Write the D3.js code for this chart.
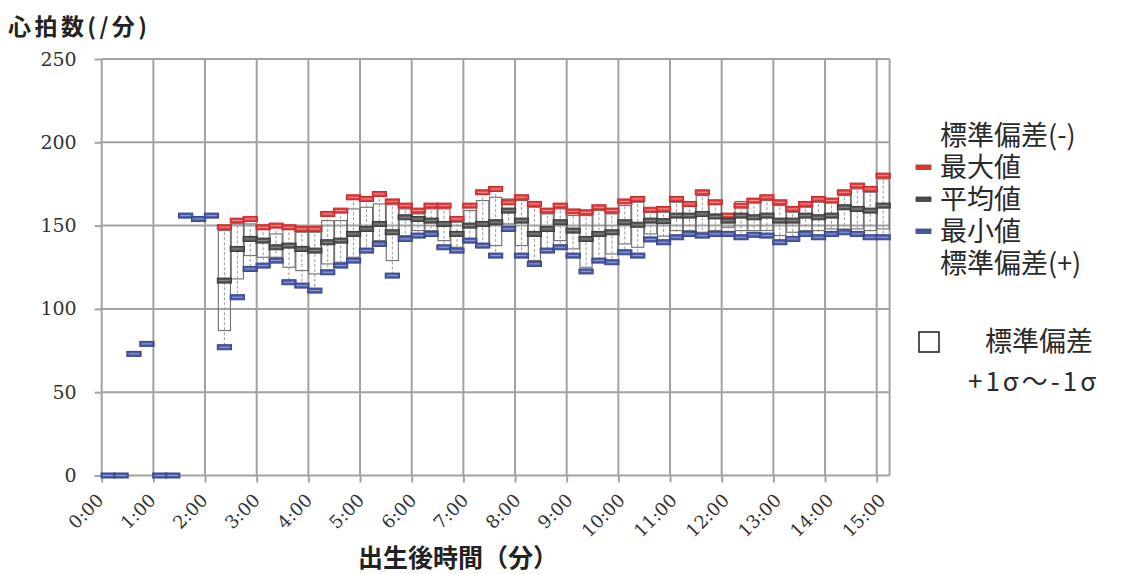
<!DOCTYPE html>
<html lang="ja">
<head>
<meta charset="utf-8">
<script src="https://cdn.jsdelivr.net/npm/d3@7"></script>
<style>
  html, body { margin: 0; padding: 0; background: #fff; }
  svg { display: block; }
  .num { font-family: "DejaVu Serif", "Liberation Serif", "Noto Serif", serif; }
  .jp { font-family: "Noto Sans CJK JP", "Noto Sans", sans-serif; }
</style>
</head>
<body>
<svg id="chart" width="1122" height="574"></svg>
<script>
// Heart rate after birth, 15-second intervals (0:00 – 15:00)
const timeLabels = [
  "0:00","0:15","0:30","0:45","1:00","1:15","1:30","1:45","2:00","2:15",
  "2:30","2:45","3:00","3:15","3:30","3:45","4:00","4:15","4:30","4:45",
  "5:00","5:15","5:30","5:45","6:00","6:15","6:30","6:45","7:00","7:15",
  "7:30","7:45","8:00","8:15","8:30","8:45","9:00","9:15","9:30","9:45",
  "10:00","10:15","10:30","10:45","11:00","11:15","11:30","11:45","12:00","12:15",
  "12:30","12:45","13:00","13:15","13:30","13:45","14:00","14:15","14:30","14:45",
  "15:00"
];

// 最大値
const maxValues = [
  null,null,null,null,null,null,null,null,null,149,
  153,154,149,150,149,148,148,157,159,167,
  166,169,164.5,162,159,162,162,154,162,170,
  172,164,167,163,159,162,158.5,158,161,159,
  164.5,166,159.5,160,166,163,170,164,156,162,
  165,167,164,160,163,166,165,170,174,172,
  180
];

// 平均値
const meanValues = [
  null,null,null,null,null,null,null,null,null,117,
  136,142,141,137,138,136,135,140,141,145,
  148,151,146,155,154,153,151,145,150,151,
  152,159,153,145,148,152,147,142,145,146,
  152,150.5,153,152.7,156,156,157,155.5,153,156,
  155,156,153,153,156,155,156,161,160,159,
  162
];

// 最小値
const minValues = [
  0,0,73,79,0,0,156,154,156,77,
  107,124,126,129,116,114,111,122,126,129,
  135,139,120,142,144,145,137,135,141,138,
  132,148,132,127,135,137,132,122.5,129,128,
  134,132,141.7,140,143,145,144,145,145,143,
  144.5,144,140,142,145,143,145,146,145,143,
  143
];

// 標準偏差(-) : mean − 1σ
const sdMinus = [
  null,null,null,null,null,null,null,null,null,87,
  118,132,131,131,125,123,121,127,128,131,
  136,141,129,144,147,147,141,137,142,139,
  138,151,138,129,136,141,136,125,130,133,
  139,137,145,143.7,147,147,146,147,149,147,
  147,147,144,146,147,147,148,148,148,147,
  148
];

// 標準偏差(+) : mean + 1σ
const sdPlus = [
  null,null,null,null,null,null,null,null,null,147,
  151,151,148,145,148,146,146,153,153,160,
  161,163,162.5,160,157,160,160,152,159,165,
  167,166,165,161,157,160,156,156,159,157,
  162,164,158,158,164,162,168,163,154,164.5,
  164,165,162,158,161,164,164,168,172,170,
  178
];

const yTicks = [0, 50, 100, 150, 200, 250];
const xTickLabels = ["0:00","1:00","2:00","3:00","4:00","5:00","6:00","7:00",
  "8:00","9:00","10:00","11:00","12:00","13:00","14:00","15:00"];

const legendNames = ["標準偏差(-)", "最大値", "平均値", "最小値", "標準偏差(+)"];
const legendColors = [null, "#d9383a", "#4a4a4a", "#4a56a0", null];

// ---------------------------------------------------------------
const svg = d3.select("#chart");
const toMin = s => { const [m, ss] = s.split(":"); return +m + (+ss) / 60; };
const step = 0.25;                           // one category = 15 s
const nCat = timeLabels.length;

const x = d3.scaleLinear().domain([0, nCat * step]).range([101.7, 889.6]);
const y = d3.scaleLinear().domain([0, 250]).range([475.5, 59]);
const bw = x(step) - x(0);
const cx = i => x(toMin(timeLabels[i]) + step / 2);

const gridColor = "#a2a2a2";

// grid
const grid = svg.append("g");
grid.selectAll("line.h").data(yTicks).join("line")
  .attr("x1", x(0)).attr("x2", x(nCat * step))
  .attr("y1", d => y(d)).attr("y2", d => y(d))
  .attr("stroke", gridColor).attr("stroke-width", 2);
grid.selectAll("line.v").data(xTickLabels).join("line")
  .attr("x1", d => x(toMin(d))).attr("x2", d => x(toMin(d)))
  .attr("y1", y(0)).attr("y2", y(250))
  .attr("stroke", gridColor).attr("stroke-width", 2);
grid.append("line")
  .attr("x1", x(nCat * step)).attr("x2", x(nCat * step))
  .attr("y1", y(0)).attr("y2", y(250))
  .attr("stroke", gridColor).attr("stroke-width", 2);

// y axis
const yAxis = svg.append("g").attr("transform", `translate(${x(0)},0)`)
  .call(d3.axisLeft(y).tickValues(yTicks).tickSize(7).tickPadding(18));
yAxis.attr("font-family", null).attr("font-size", null);
yAxis.select(".domain").remove();
yAxis.selectAll("line").attr("stroke", gridColor).attr("stroke-width", 2);
yAxis.selectAll("text").attr("class", "num")
  .attr("font-size", 19).attr("fill", "#333");

// x axis ticks
const xAxis = svg.append("g").attr("transform", `translate(0,${y(0)})`)
  .call(d3.axisBottom(x).tickValues(xTickLabels.map(toMin)).tickSize(7).tickFormat(""));
xAxis.select(".domain").remove();
xAxis.selectAll("line").attr("stroke", gridColor).attr("stroke-width", 2);

// rotated time labels
const labelX = d3.scaleLinear().domain([0, 15]).range([x(0) + 3, x(15) + 10]);
svg.append("g").selectAll("text").data(xTickLabels).join("text")
  .attr("class", "num")
  .attr("transform", d => `translate(${labelX(toMin(d))},${y(0) + 26}) rotate(-45)`)
  .attr("text-anchor", "end")
  .attr("font-size", 18).attr("fill", "#333")
  .text(d => d);

// ±1σ boxes
const idx = d3.range(nCat);
const boxed = idx.filter(i => sdPlus[i] != null);
svg.append("g").selectAll("rect").data(boxed).join("rect")
  .attr("x", i => cx(i) - bw * 0.47)
  .attr("width", bw * 0.94)
  .attr("y", i => y(sdPlus[i]))
  .attr("height", i => y(sdMinus[i]) - y(sdPlus[i]))
  .attr("fill", "none").attr("stroke", "#6e6e6e").attr("stroke-width", 1.1);

// high–low dashed lines
svg.append("g").selectAll("line").data(idx.filter(i => maxValues[i] != null)).join("line")
  .attr("x1", i => cx(i)).attr("x2", i => cx(i))
  .attr("y1", i => y(maxValues[i])).attr("y2", i => y(minValues[i]))
  .attr("stroke", "#9a9a9a").attr("stroke-width", 1).attr("stroke-dasharray", "3,2");

// dash markers
function dashes(values, fill, stroke, inner) {
  const g = svg.append("g");
  const pts = idx.filter(i => values[i] != null);
  g.selectAll("rect").data(pts).join("rect")
    .attr("x", i => cx(i) - bw * 0.55)
    .attr("width", bw * 1.1)
    .attr("y", i => y(values[i]) - 2.5)
    .attr("height", 5)
    .attr("fill", fill).attr("stroke", stroke).attr("stroke-width", 1);
  g.selectAll("line").data(pts).join("line")
    .attr("x1", i => cx(i) - bw * 0.4).attr("x2", i => cx(i) + bw * 0.4)
    .attr("y1", i => y(values[i])).attr("y2", i => y(values[i]))
    .attr("stroke", inner).attr("stroke-width", 1);
}
dashes(maxValues, "#df3b3d", "#c42a2c", "#f29a9a");
dashes(meanValues, "#555", "#3a3a3a", "#8a8a8a");
dashes(minValues, "#4d5aa6", "#36438c", "#95a0d6");

// titles
svg.append("text").attr("class", "jp").attr("x", 8).attr("y", 35)
  .attr("font-size", 23).attr("font-weight", "bold").attr("fill", "#222")
  .attr("textLength", 139).attr("lengthAdjust", "spacing")
  .text("心拍数(/分)");
svg.append("text").attr("class", "jp").attr("x", 458).attr("y", 567).attr("text-anchor", "middle")
  .attr("font-size", 25).attr("font-weight", "bold").attr("fill", "#222")
  .text("出生後時間（分）");

// legend
const lg = svg.append("g").attr("class", "jp");
legendNames.forEach((name, k) => {
  const base = 145 + k * 32;
  lg.append("text").attr("x", 940).attr("y", base)
    .attr("font-size", 27).attr("fill", "#2a2a2a")
    .text(name);
  const c = legendColors[k];
  if (c) {
    lg.append("rect").attr("x", 916).attr("y", base - 12).attr("width", 15).attr("height", 4.5)
      .attr("fill", c).attr("stroke", d3.color(c).darker(0.5)).attr("stroke-width", 0.8);
  }
});
lg.append("rect").attr("x", 919).attr("y", 332).attr("width", 20).attr("height", 20)
  .attr("fill", "none").attr("stroke", "#2a2a2a").attr("stroke-width", 1.6);
lg.append("text").attr("x", 985).attr("y", 351)
  .attr("font-size", 27).attr("fill", "#2a2a2a")
  .text("標準偏差");
lg.append("text").attr("x", 968).attr("y", 391)
  .attr("font-size", 26).attr("fill", "#2a2a2a").attr("letter-spacing", 3)
  .text("+1σ〜-1σ");
</script>
</body>
</html>
